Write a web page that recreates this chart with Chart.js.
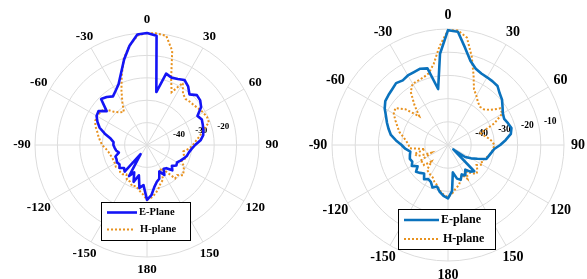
<!DOCTYPE html>
<html>
<head>
<meta charset="utf-8">
<script src="https://cdn.jsdelivr.net/npm/chart.js@4.4.1/dist/chart.umd.min.js"></script>
<style>
  html, body { margin: 0; padding: 0; background: #fff; }
  #wrap { position: relative; width: 587px; height: 279px; }
  .box { position: absolute; top: 0; height: 279px; }
</style>
</head>
<body>
<div id="wrap">
  <div class="box" style="left:0;width:293px"><canvas id="leftChart" width="293" height="279"></canvas></div>
  <div class="box" style="left:293px;width:294px"><canvas id="rightChart" width="294" height="279"></canvas></div>
</div>
<script>
// angle in degrees, clockwise from the top
const angles = [0, 5, 10, 15, 20, 25, 30, 35, 40, 45, 50, 55, 60, 65, 70, 75, 80, 85,
  90, 95, 100, 105, 110, 115, 120, 125, 130, 135, 140, 145, 150, 155, 160, 165, 170, 175,
  180, 185, 190, 195, 200, 205, 210, 215, 220, 225, 230, 235, 240, 245, 250, 255, 260, 265,
  270, 275, 280, 285, 290, 295, 300, 305, 310, 315, 320, 325, 330, 335, 340, 345, 350, 355];

const thetaTicks = [0, 30, 60, 90, 120, 150, 180, 210, 240, 270, 300, 330];
const thetaTickLabels = ["0", "30", "60", "90", "120", "150", "180", "-150", "-120", "-90", "-60", "-30"];
const rTicksLeft = [-40, -30, -20];
const rTicksRight = [-40, -30, -20, -10];

// left plot (dB)
const leftE = [-10, -11, -36, -27, -28, -27.5, -26.5, -28, -30.5, -28.5, -29, -30.5, -34, -33, -33.5, -34, -34.5, -36,
  -38.5, -40, -41, -41.5, -42.5, -43.5, -44.5, -44, -45.5, -44, -46.5, -47, -44.5, -47, -44, -43, -41, -37.5,
  -35.5, -42, -40.5, -46, -42.5, -46.5, -44, -55, -44.5, -45.5, -44, -45, -44.5, -45, -45, -47, -46, -45.5,
  -45, -45, -43.5, -40.5, -37.5, -35.6, -34, -33.6, -36.5, -31, -32, -33.5, -32, -30, -26, -20.5, -15, -10.5];
const leftH = [-10, -10, -10.5, -16.5, -28.5, -34, -28, -32, -33.2, -32.8, -32.5, -31.8, -31, -30.4, -30.6, -34, -36, -38,
  -39.5, -41.2, -43.5, -43, -42, -43, -41, -40, -39, -41, -40.5, -46, -48, -43, -42, -40, -38, -36.5,
  -35.5, -38, -39.5, -41, -40.5, -42, -42, -44, -43, -43, -44, -43, -43.5, -43.5, -43.5, -43, -42.5, -41.5,
  -40, -39, -38, -37, -35.5, -34.5, -34.3, -34.5, -35, -39, -41, -42, -38, -33, -27, -20, -15, -11];

// right plot (dB)
const rightE = [-10.5, -11, -17.5, -22.5, -25, -26, -26.3, -26.5, -26.8, -28.5, -29.6, -31.3, -32.7, -33.3, -32.5, -31.7, -32.5, -35,
  -37.5, -40, -41, -41.8, -42.4, -46, -48.5, -51, -57, -44, -45, -47, -45, -46, -44, -45, -48, -40,
  -37, -38, -39.5, -41.5, -40.5, -42.5, -43, -42, -44, -43, -42, -44, -42, -43, -42.5, -43, -43.5, -41.5,
  -40, -37.5, -35, -33.5, -32, -30.5, -28.5, -27, -26.5, -26, -25.2, -26, -25.4, -25.3, -25, -25.8, -35.5, -20.5];
const rightH = [-10.5, -10.5, -13, -20.5, -27.8, -33.5, -35.5, -37.5, -38.5, -38.2, -36.5, -32.5, -33, -38, -45, -44, -42.5, -41,
  -40, -40.5, -41, -42, -43, -44, -43, -45, -43.5, -42.5, -44, -46, -43, -46, -44, -42, -41, -39,
  -37.5, -38.5, -40, -42, -43, -44.5, -45, -45.5, -46, -50, -46.5, -47, -46, -52, -46, -45, -50, -43.5,
  -43, -42, -40.5, -38.3, -36.8, -35, -33, -32.3, -36, -42.5, -37.5, -32, -29.5, -29.4, -29, -28, -24.5, -17.4];

const gridGray = "#dcdcdc";
const serif = '"Liberation Serif", "Times New Roman", serif';

const polarDecor = {
  id: "polarDecor",
  beforeDatasetsDraw(chart, args, opts) {
    const s = chart.scales.r;
    const ctx = chart.ctx;
    ctx.save();
    ctx.fillStyle = "#000";
    ctx.textAlign = "center";
    ctx.textBaseline = "middle";
    ctx.font = "bold " + opts.angleFont + "px " + serif;
    thetaTicks.forEach((deg, k) => {
      const p = s.getPointPosition(angles.indexOf(deg), s.drawingArea + opts.labelGap);
      ctx.fillText(thetaTickLabels[k], p.x, p.y);
    });
    ctx.font = "bold " + opts.tickFont + "px " + serif;
    const at = angles.indexOf(80);
    opts.rTicks.forEach(v => {
      const p = s.getPointPosition(at, s.getDistanceFromCenterForValue(v));
      ctx.fillText(String(v), p.x - 12, p.y - 3);
    });
    ctx.restore();
  },
  afterDraw(chart, args, opts) {
    const L = opts.legend;
    const ctx = chart.ctx;
    ctx.save();
    ctx.fillStyle = "#fff";
    ctx.fillRect(L.x, L.y, L.w, L.h);
    ctx.strokeStyle = "#000";
    ctx.lineWidth = 1;
    ctx.strokeRect(L.x + 0.5, L.y + 0.5, L.w - 1, L.h - 1);
    ctx.font = "bold " + L.font + "px " + serif;
    ctx.textAlign = "left";
    ctx.textBaseline = "middle";
    chart.data.datasets.forEach((ds, i) => {
      const row = L.rows[i];
      ctx.strokeStyle = ds.borderColor;
      ctx.lineWidth = ds.borderWidth;
      ctx.setLineDash(ds.borderDash || []);
      ctx.beginPath();
      ctx.moveTo(row.x0, row.y);
      ctx.lineTo(row.x1, row.y);
      ctx.stroke();
      ctx.setLineDash([]);
      ctx.fillStyle = "#000";
      ctx.fillText(ds.label, row.tx, row.y);
    });
    ctx.restore();
  }
};

function makePolar(id, eLabel, eData, eColor, hData, hColor, padding, decor) {
  return new Chart(document.getElementById(id), {
    type: "radar",
    data: {
      labels: angles,
      datasets: [
        { label: eLabel, data: eData, borderColor: eColor, borderWidth: 2.6,
          fill: false, pointRadius: 0, tension: 0, borderJoinStyle: "round" },
        { label: "H-plane", data: hData, borderColor: hColor, borderWidth: 2,
          borderDash: [2, 2], fill: false, pointRadius: 0, tension: 0 }
      ]
    },
    options: {
      responsive: false,
      animation: false,
      layout: { padding: padding },
      scales: {
        r: {
          min: -60,
          max: -10,
          ticks: { stepSize: 10, display: false },
          grid: { circular: true, color: gridGray, lineWidth: 1 },
          angleLines: {
            color: gridGray,
            lineWidth: c => (angles[c.index] % 30 === 0 ? 1 : 0)
          },
          pointLabels: { display: false }
        }
      },
      plugins: {
        legend: { display: false },
        tooltip: { enabled: false },
        polarDecor: decor
      }
    },
    plugins: [polarDecor]
  });
}

makePolar("leftChart", "E-Plane", leftE, "#1414f5", leftH, "#e8921f",
  { left: 35, right: 34, top: 33, bottom: 22 },
  {
    angleFont: 13, tickFont: 9, labelGap: 13, rTicks: rTicksLeft,
    legend: {
      x: 101, y: 202, w: 90, h: 39, font: 10.5,
      rows: [{ y: 212.5, x0: 107, x1: 137, tx: 139 }, { y: 229.5, x0: 107, x1: 134, tx: 140 }]
    }
  });

makePolar("rightChart", "E-plane", rightE, "#0a72bd", rightH, "#e8921f",
  { left: 39, right: 23, top: 29, bottom: 18 },
  {
    angleFont: 14, tickFont: 9.5, labelGap: 14, rTicks: rTicksRight,
    legend: {
      x: 105, y: 209, w: 98, h: 41, font: 12,
      rows: [{ y: 220, x0: 111, x1: 146, tx: 148 }, { y: 239, x0: 111, x1: 145, tx: 150 }]
    }
  });
</script>
</body>
</html>
